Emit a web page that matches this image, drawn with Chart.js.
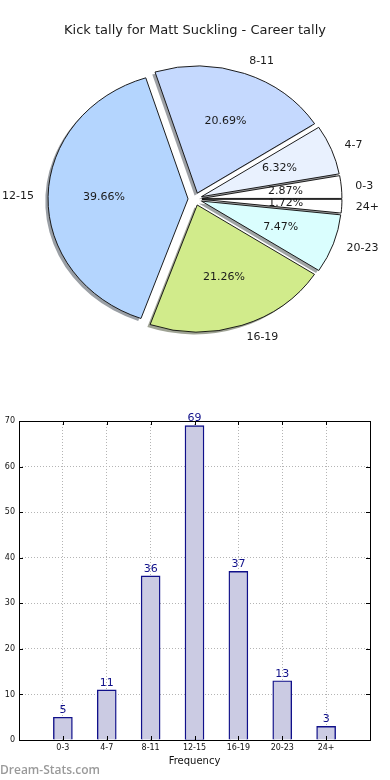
<!DOCTYPE html>
<html>
<head>
<meta charset="utf-8">
<script src="https://cdn.jsdelivr.net/npm/chart.js@4.4.1/dist/chart.umd.min.js"></script>
<style>
html, body { margin: 0; padding: 0; background: #fff; }
#wrap { position: relative; width: 390px; height: 780px; overflow: hidden; }
#pie { position: absolute; left: 0; top: 0; }
#bar { position: absolute; left: 0; top: 410px; }
#mark { position: absolute; left: 0; top: 761px; font: 600 12px "Open Sans", sans-serif; color: #9a9a9a; }
</style>
</head>
<body>
<div id="wrap">
  <canvas id="pie" width="390" height="400"></canvas>
  <canvas id="bar" width="390" height="370"></canvas>
  <div id="mark">Dream-Stats.com</div>
</div>
<script>
/* DATA */
const categories = ["0-3", "4-7", "8-11", "12-15", "16-19", "20-23", "24+"];
const kicks = [5, 11, 36, 69, 37, 13, 3];
const yTicks = [0, 10, 20, 30, 40, 50, 60, 70];

/* STYLE */
const sliceColors = ["#ffffff", "#e9f1fe", "#c5d9fe", "#b4d5fe", "#d1eb8b", "#dafefe", "#ffffff"];
const FONT = "'DejaVu Sans', sans-serif";
const PIE_R = 127;
const SX = 140 / PIE_R;  // pie is a bit wider than tall
const EXPLODE = 6.3;     // px each slice is pushed out

const total = kicks.reduce((a, b) => a + b, 0);
// chart.js goes clockwise, the original goes counter-clockwise from 3 o'clock
const pieOrder = categories.map((_, i) => i).reverse();

function shadowOf(hex) {
  const n = parseInt(hex.slice(1), 16);
  const r = Math.round(((n >> 16) & 255) * 0.3), g = Math.round(((n >> 8) & 255) * 0.3), b = Math.round((n & 255) * 0.3);
  return `rgba(${r},${g},${b},0.5)`;
}

/* PIE: drawn by hand from the arc elements (stretch, explode, shadow, labels) */
const pieLook = {
  id: "pieLook",
  beforeDatasetsDraw(chart) {
    const ctx = chart.ctx;
    const arcs = chart.getDatasetMeta(0).data;
    const cx = arcs[0].x, cy = arcs[0].y;
    const mids = arcs.map(a => (a.startAngle + a.endAngle) / 2);

    ctx.save();
    ctx.translate(cx, cy);
    ctx.scale(SX, 1);
    ctx.translate(-cx, -cy);

    // shadows under everything
    arcs.forEach((a, i) => {
      const dx = Math.cos(mids[i]) * EXPLODE - 2.5, dy = Math.sin(mids[i]) * EXPLODE + 2.5;
      ctx.beginPath();
      ctx.moveTo(cx + dx, cy + dy);
      ctx.arc(cx + dx, cy + dy, a.outerRadius, a.startAngle, a.endAngle);
      ctx.closePath();
      ctx.fillStyle = shadowOf(sliceColors[pieOrder[i]]);
      ctx.fill();
    });
    // wedges
    arcs.forEach((a, i) => {
      ctx.save();
      ctx.translate(Math.cos(mids[i]) * EXPLODE, Math.sin(mids[i]) * EXPLODE);
      a.draw(ctx);
      ctx.restore();
    });
    ctx.restore();

    // labels
    ctx.save();
    ctx.font = "11px " + FONT;
    ctx.fillStyle = "#1a1a1a";
    ctx.textBaseline = "middle";
    arcs.forEach((a, i) => {
      const idx = pieOrder[i];
      const c = Math.cos(mids[i]), s = Math.sin(mids[i]);
      const r = a.outerRadius;
      const pct = (kicks[idx] / total * 100).toFixed(2) + "%";
      ctx.textAlign = "center";
      ctx.fillText(pct, cx + c * (0.6 * r + EXPLODE) * SX, cy + s * (0.6 * r + EXPLODE));
      ctx.textAlign = c >= 0 ? "left" : "right";
      ctx.fillText(categories[idx], cx + c * (1.1 * r + EXPLODE) * SX, cy + s * (1.1 * r + EXPLODE));
    });
    ctx.restore();
    return false;
  }
};

new Chart(document.getElementById("pie"), {
  type: "pie",
  data: {
    labels: pieOrder.map(i => categories[i]),
    datasets: [{
      data: pieOrder.map(i => kicks[i]),
      backgroundColor: pieOrder.map(i => sliceColors[i]),
      borderColor: "#111",
      borderWidth: 0.9,
      radius: PIE_R
    }]
  },
  options: {
    responsive: false,
    animation: false,
    rotation: 90,
    layout: { padding: { top: 13, bottom: 50.6 } },
    plugins: {
      legend: { display: false },
      tooltip: { enabled: false },
      title: {
        display: true,
        text: "Kick tally for Matt Suckling - Career tally",
        color: "#1a1a1a",
        font: { family: FONT, size: 13, weight: "normal" },
        padding: { top: 10, bottom: 10 }
      }
    }
  },
  plugins: [pieLook]
});

/* BAR: frame, inward ticks, value labels */
const barLook = {
  id: "barLook",
  afterDraw(chart) {
    const { ctx, chartArea: ca, scales } = chart;
    ctx.save();
    ctx.strokeStyle = "#000";
    ctx.lineWidth = 1;
    ctx.beginPath();
    yTicks.forEach(v => {
      const y = Math.round(scales.y.getPixelForValue(v)) + 0.5;
      ctx.moveTo(ca.left, y); ctx.lineTo(ca.left + 4, y);
      ctx.moveTo(ca.right, y); ctx.lineTo(ca.right - 4, y);
    });
    categories.forEach((_, i) => {
      const x = Math.round(scales.x.getPixelForValue(i)) + 0.5;
      ctx.moveTo(x, ca.bottom); ctx.lineTo(x, ca.bottom - 4);
      ctx.moveTo(x, ca.top); ctx.lineTo(x, ca.top + 4);
    });
    ctx.stroke();
    ctx.strokeRect(Math.round(ca.left) + 0.5, Math.round(ca.top) + 0.5,
      Math.round(ca.width), Math.round(ca.height));

    ctx.font = "11px " + FONT;
    ctx.fillStyle = "#10108a";
    ctx.textAlign = "center";
    ctx.textBaseline = "middle";
    chart.getDatasetMeta(0).data.forEach((b, i) => {
      ctx.fillText(String(kicks[i]), b.x, b.y - 7);
    });
    ctx.restore();
  }
};

new Chart(document.getElementById("bar"), {
  type: "bar",
  data: {
    datasets: [{
      data: kicks.map((v, i) => ({ x: i, y: v })),
      backgroundColor: "#cbcbe3",
      borderColor: "#10108a",
      borderWidth: 1.4,
      barThickness: 19
    }]
  },
  options: {
    responsive: false,
    animation: false,
    layout: { padding: { top: 11, right: 20, bottom: 10, left: 0 } },
    plugins: { legend: { display: false }, tooltip: { enabled: false } },
    scales: {
      x: {
        type: "linear",
        min: -1,
        max: 7,
        offset: false,
        z: 1,
        afterBuildTicks(s) { s.ticks = [-1, 0, 1, 2, 3, 4, 5, 6, 7].map(v => ({ value: v })); },
        ticks: {
          autoSkip: false,
          maxRotation: 0,
          padding: 3,
          color: "#111",
          font: { family: FONT, size: 8 },
          callback: v => categories[v] || ""
        },
        grid: { color: "#b4b4b4", drawTicks: false, offset: false },
        border: { display: false, dash: [1, 2] },
        title: {
          display: true,
          text: "Frequency",
          color: "#111",
          font: { family: FONT, size: 10 },
          padding: { top: 0, bottom: 3 }
        },
        afterFit(s) { s.height = 30; }
      },
      y: {
        min: 0,
        max: 70,
        z: 1,
        afterBuildTicks(s) { s.ticks = yTicks.map(v => ({ value: v })); },
        ticks: {
          padding: 4,
          color: "#111",
          font: { family: FONT, size: 8 }
        },
        grid: { color: "#b4b4b4", drawTicks: false },
        border: { display: false, dash: [1, 2] },
        afterFit(s) { s.width = 19; }
      }
    }
  },
  plugins: [barLook]
});
</script>
</body>
</html>
